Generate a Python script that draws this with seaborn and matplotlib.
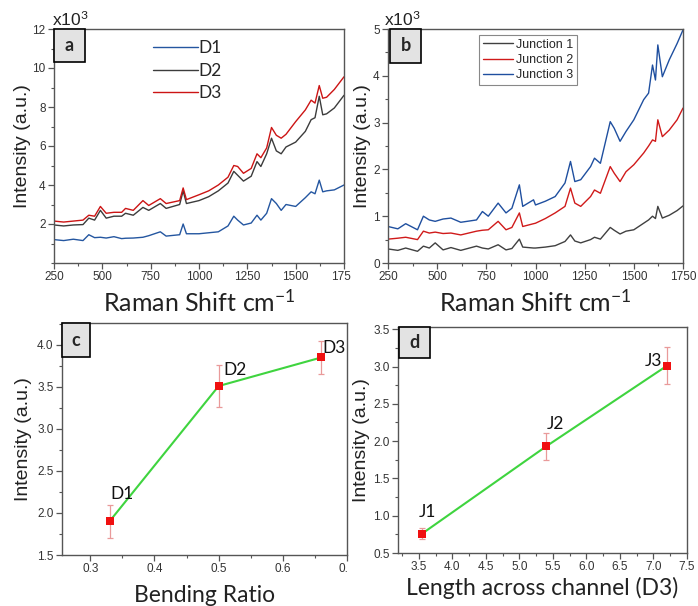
import numpy as np
import pandas as pd
import matplotlib
matplotlib.use("Agg")
import matplotlib.pyplot as plt
import seaborn as sns
from matplotlib.patches import Rectangle
from matplotlib.ticker import MultipleLocator
from matplotlib.transforms import Bbox, TransformedBbox

# ---------------- data ----------------
# panel a: Raman spectra D1-D3 (intensity in 10^3 a.u.)
shift_a = [250, 300, 350, 400, 430, 460, 490, 520, 560, 600, 620, 660, 710, 740, 800, 830,
           900, 918, 935, 1000, 1050, 1100, 1150, 1180, 1200, 1230, 1270, 1300, 1320, 1350,
           1375, 1400, 1425, 1450, 1500, 1550, 1580, 1600, 1622, 1640, 1660, 1700, 1750]
d1 = [1.2, 1.15, 1.22, 1.15, 1.45, 1.3, 1.32, 1.28, 1.35, 1.25, 1.27, 1.28, 1.32, 1.4, 1.6, 1.38,
      1.45, 2.0, 1.5, 1.5, 1.55, 1.6, 1.9, 2.4, 2.2, 1.95, 2.05, 2.45, 2.2, 2.55,
      3.3, 3.05, 2.7, 3.0, 2.9, 3.35, 3.65, 3.55, 4.25, 3.65, 3.7, 3.75, 4.0]
d2 = [1.95, 1.9, 1.95, 1.97, 2.3, 2.2, 2.7, 2.3, 2.4, 2.4, 2.55, 2.45, 2.85, 2.7, 3.05, 2.8,
      3.0, 3.7, 3.05, 3.2, 3.4, 3.7, 4.1, 4.7, 4.5, 4.2, 4.45, 5.2, 4.95, 5.6,
      6.4, 5.75, 5.6, 5.95, 6.2, 6.75, 7.35, 7.45, 8.55, 7.6, 7.65, 7.95, 8.6]
d3 = [2.15, 2.1, 2.15, 2.2, 2.45, 2.4, 2.9, 2.55, 2.6, 2.6, 2.8, 2.7, 3.2, 2.95, 3.3, 3.05,
      3.2, 3.85, 3.25, 3.5, 3.7, 4.0, 4.4, 5.0, 4.95, 4.6, 4.85, 5.6, 5.4, 5.9,
      6.95, 6.55, 6.4, 6.6, 7.25, 7.85, 8.35, 8.2, 9.1, 8.45, 8.5, 8.9, 9.55]
labels_a = ["D1", "D2", "D3"]

# panel b: Raman spectra Junction 1-3 (intensity in 10^3 a.u.)
shift_b = [250, 300, 340, 400, 430, 460, 490, 530, 570, 620, 700, 730, 760, 810, 850, 880,
           918, 935, 990, 1000, 1050, 1100, 1150, 1178, 1200, 1230, 1280, 1300, 1330, 1380,
           1400, 1430, 1460, 1500, 1550, 1575, 1595, 1610, 1622, 1645, 1680, 1720, 1750]
j1 = [0.3, 0.27, 0.32, 0.25, 0.36, 0.32, 0.43, 0.28, 0.33, 0.27, 0.36, 0.32, 0.3, 0.39, 0.28, 0.31,
      0.51, 0.34, 0.32, 0.32, 0.34, 0.37, 0.46, 0.6, 0.47, 0.43, 0.5, 0.55, 0.51, 0.76,
      0.7, 0.62, 0.68, 0.71, 0.85, 0.92, 1.0, 0.95, 1.21, 0.96, 1.02, 1.12, 1.22]
j2 = [0.51, 0.53, 0.55, 0.5, 0.68, 0.64, 0.66, 0.63, 0.64, 0.6, 0.68, 0.7, 0.71, 0.89, 0.71, 0.76,
      1.07, 0.78, 0.84, 0.85, 0.95, 1.07, 1.21, 1.6, 1.28, 1.21, 1.42, 1.56, 1.49, 2.06,
      1.92, 1.74, 1.95, 2.1, 2.35, 2.5, 2.63, 2.6, 3.06, 2.7, 2.84, 3.06, 3.31]
j3 = [0.78, 0.73, 0.84, 0.71, 1.0, 0.92, 0.89, 0.94, 0.96, 0.87, 0.92, 1.1, 1.0, 1.28, 1.07, 1.17,
      1.67, 1.21, 1.35, 1.24, 1.32, 1.42, 1.71, 2.17, 1.74, 1.78, 2.06, 2.24, 2.13, 3.02,
      2.88, 2.6, 2.81, 3.06, 3.49, 3.63, 4.23, 3.91, 4.66, 3.98, 4.34, 4.69, 4.98]
labels_b = ["Junction 1", "Junction 2", "Junction 3"]

# panel c: intensity vs bending ratio
bend_ratio = [0.33, 0.50, 0.66]
bend_int = [1.90, 3.51, 3.85]
bend_err = [0.20, 0.25, 0.195]
bend_names = ["D1", "D2", "D3"]

# panel d: intensity vs length across channel
length = [3.55, 5.40, 7.20]
len_int = [0.76, 1.93, 3.01]
len_err = [0.075, 0.18, 0.25]
len_names = ["J1", "J2", "J3"]

# ---------------- style ----------------
sns.set_theme(style="ticks")
plt.rcParams["font.family"] = ["Liberation Sans", "DejaVu Sans"]
plt.rcParams["mathtext.fontset"] = "custom"
plt.rcParams["mathtext.rm"] = "Lato"
plt.rcParams["mathtext.it"] = "Lato:italic"
plt.rcParams["mathtext.bf"] = "Lato:bold"

W, H = 698, 606
fig = plt.figure(figsize=(W / 100, H / 100), dpi=100)
fig.patch.set_facecolor("white")


def px_axes(l, t, r, b):
    return fig.add_axes([l / W, 1 - b / H, (r - l) / W, (b - t) / H])


def style_axes(ax):
    for s in ax.spines.values():
        s.set_color("#555555")
        s.set_linewidth(1.0)
    ax.tick_params(which="major", direction="out", length=4, width=0.9, color="#555555",
                   labelsize=8.5, labelcolor="#333333", pad=2)
    ax.tick_params(which="minor", direction="out", length=2, width=0.8, color="#555555")


def panel_box(ax, x0, x1, y0, letter):
    ax.add_patch(Rectangle((x0, y0), x1 - x0, 1 - y0, transform=ax.transAxes,
                           facecolor="#e3e3e3", edgecolor="black", lw=1.2, zorder=5,
                           clip_on=False))
    ax.text((x0 + x1) / 2, (y0 + 1) / 2, letter, transform=ax.transAxes, ha="center",
            va="center", fontsize=13, fontweight="bold", family="Lato", zorder=6)


label_font = dict(family="Lato", color="#222222")

axA = px_axes(54, 29, 344, 263)
axB = px_axes(388, 29, 683, 263)
axC = px_axes(62, 323, 347, 555)
axD = px_axes(398, 327, 687, 553)

# ---------------- panel a ----------------
dfa = pd.DataFrame({
    "shift": shift_a * 3,
    "intensity": d1 + d2 + d3,
    "sample": sum([[n] * len(shift_a) for n in labels_a], []),
})
pal_a = {"D1": "#2456a0", "D2": "#3c3c3c", "D3": "#cc1414"}
sns.lineplot(data=dfa, x="shift", y="intensity", hue="sample", palette=pal_a, ax=axA,
             lw=1.0, legend=True)
axA.set_xlim(250, 1750)
axA.set_ylim(0, 12)
axA.set_xticks([250, 500, 750, 1000, 1250, 1500, 1750])
axA.set_yticks([2, 4, 6, 8, 10, 12])
axA.xaxis.set_minor_locator(MultipleLocator(125))
axA.yaxis.set_minor_locator(MultipleLocator(1))
style_axes(axA)
axA.set_xlabel("Raman Shift cm$^{-1}$", fontsize=18, **label_font)
axA.set_ylabel("Intensity (a.u.)", fontsize=14, color="#222222")
h, l = axA.get_legend_handles_labels()
axA.legend(h, l, loc="upper left", bbox_to_anchor=(0.341, 0.953), frameon=False,
           borderpad=0, borderaxespad=0, handlelength=2.6, handletextpad=0.0,
           labelspacing=0.38, prop=dict(family="Lato", size=12.5))
panel_box(axA, 0, 0.107, 0.859, "a")
axA.text(-0.008, 1.0, "x10$^3$", transform=axA.transAxes, ha="left", va="bottom",
         fontsize=12.5, color="#222222")

# ---------------- panel b ----------------
dfb = pd.DataFrame({
    "shift": shift_b * 3,
    "intensity": j1 + j2 + j3,
    "sample": sum([[n] * len(shift_b) for n in labels_b], []),
})
pal_b = {"Junction 1": "#404040", "Junction 2": "#d01a1a", "Junction 3": "#1f4f9f"}
sns.lineplot(data=dfb, x="shift", y="intensity", hue="sample", palette=pal_b, ax=axB,
             lw=1.0, legend=True)
axB.set_xlim(250, 1750)
axB.set_ylim(0, 5)
axB.set_xticks([250, 500, 750, 1000, 1250, 1500, 1750])
axB.set_yticks([0, 1, 2, 3, 4, 5])
axB.xaxis.set_minor_locator(MultipleLocator(125))
axB.yaxis.set_minor_locator(MultipleLocator(0.5))
style_axes(axB)
axB.set_xlabel("Raman Shift cm$^{-1}$", fontsize=18, **label_font)
axB.set_ylabel("Intensity (a.u.)", fontsize=14, color="#222222")
h, l = axB.get_legend_handles_labels()
legB = axB.legend(h, l, loc="upper left", bbox_to_anchor=(0.308, 0.974), frameon=True,
                  fancybox=False, borderpad=0.3, borderaxespad=0, handlelength=2.4,
                  handletextpad=0.3, labelspacing=0.25, prop=dict(size=9))
legB.get_frame().set_edgecolor("#888888")
legB.get_frame().set_linewidth(0.8)
legB.get_frame().set_alpha(1)
panel_box(axB, 0.007, 0.112, 0.855, "b")
axB.text(-0.012, 1.0, "x10$^3$", transform=axB.transAxes, ha="left", va="bottom",
         fontsize=12.5, color="#222222")

# ---------------- panels c, d ----------------
def trend_panel(ax, xs, ys, errs):
    sns.lineplot(x=xs, y=ys, ax=ax, color="#3fd43f", lw=1.5, zorder=2)
    ax.errorbar(xs, ys, yerr=errs, fmt="none", ecolor="#e99a9a", elinewidth=0.9,
                capsize=2.2, capthick=0.9, zorder=3)
    sns.scatterplot(x=xs, y=ys, ax=ax, marker="s", s=36, color="#f01010",
                    edgecolor="#f01010", linewidth=0, zorder=4)


trend_panel(axC, bend_ratio, bend_int, bend_err)
axC.set_xlim(0.256, 0.70)
axC.set_ylim(1.5, 4.26)
axC.set_xticks([0.3, 0.4, 0.5, 0.6, 0.7])
axC.set_yticks([1.5, 2.0, 2.5, 3.0, 3.5, 4.0])
axC.xaxis.set_minor_locator(MultipleLocator(0.05))
axC.yaxis.set_minor_locator(MultipleLocator(0.25))
style_axes(axC)
axC.set_xlabel("Bending Ratio", fontsize=16.5, **label_font)
axC.set_ylabel("Intensity (a.u.)", fontsize=14, color="#222222")
ann_c = [(0.331, 2.22), (0.507, 3.70), (0.662, 3.96)]
txt_c = []
for (tx, ty), name in zip(ann_c, bend_names):
    txt_c.append(axC.text(tx, ty, name, ha="left", va="center", fontsize=12.5,
                          family="Lato", color="#111111", zorder=6))
panel_box(axC, 0, 0.098, 0.853, "c")

trend_panel(axD, length, len_int, len_err)
axD.set_xlim(3.19, 7.5)
axD.set_ylim(0.5, 3.53)
axD.set_xticks([3.5, 4.0, 4.5, 5.0, 5.5, 6.0, 6.5, 7.0, 7.5])
axD.set_yticks([0.5, 1.0, 1.5, 2.0, 2.5, 3.0, 3.5])
axD.xaxis.set_minor_locator(MultipleLocator(0.25))
axD.yaxis.set_minor_locator(MultipleLocator(0.25))
style_axes(axD)
axD.set_xlabel("Length across channel (D3)", fontsize=16.5, **label_font)
axD.set_ylabel("Intensity (a.u.)", fontsize=14, color="#222222")
ann_d = [(3.5, 1.055), (5.405, 2.23), (6.877, 3.07)]
for (tx, ty), name in zip(ann_d, len_names):
    axD.text(tx, ty, name, ha="left", va="center", fontsize=12.5, family="Lato",
             color="#111111", zorder=6)
panel_box(axD, 0.003, 0.111, 0.863, "d")

# ---------------- label placement ----------------
for ax, yx, xy in [(axA, -0.107, -0.209), (axB, -0.085, -0.209),
                   (axC, -0.135, -0.203), (axD, -0.128, -0.185)]:
    ax.yaxis.set_label_coords(yx, 0.5)
    ax.yaxis.label.set_verticalalignment("center")
    ax.xaxis.set_label_coords(0.5, xy)
    ax.xaxis.label.set_verticalalignment("baseline")

# ---------------- clipping of the cropped sub-figures ----------------
fig.canvas.draw()
clipA = TransformedBbox(Bbox([[0, 0], [351 / W, 1]]), fig.transFigure)
clipC = TransformedBbox(Bbox([[0, 0], [347.5 / W, 1]]), fig.transFigure)
for t in axA.get_xticklabels():
    t.set_clip_box(clipA)
    t.set_clip_on(True)
for t in axC.get_xticklabels() + txt_c:
    t.set_clip_box(clipC)
    t.set_clip_on(True)

fig.savefig("out.png", dpi=100, facecolor="white")
